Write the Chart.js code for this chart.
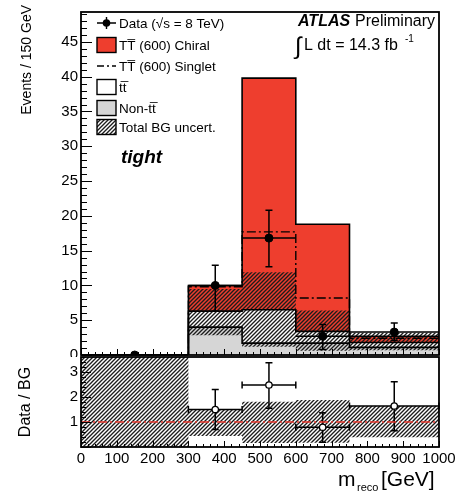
<!DOCTYPE html>
<html>
<head>
<meta charset="utf-8">
<script src="https://cdn.jsdelivr.net/npm/chart.js@4.4.1/dist/chart.umd.min.js"></script>
<style>
    body { margin: 0; background: #fff; }
    #wrap { position: relative; width: 469px; height: 492px; overflow: hidden; }
    canvas { position: absolute; left: 0; }
</style>
</head>
<body>
<div id="wrap">
    <canvas id="main" width="469" height="370" style="top:0"></canvas>
    <canvas id="ratio" width="469" height="162" style="top:330px"></canvas>
</div>
<script>
// bins (GeV)
const binEdges = [0, 300, 450, 600, 750, 1000];

// stacked histograms, events per bin
const nonTT = [0, 4.0, 1.7, 1.7, 1.1];
const ttbar = [0, 2.3, 4.8, 1.7, 0.7];
const chiral = [0, 3.7, 33.3, 15.4, 0.9];
// singlet drawn as total (BG + signal)
const singletTotal = [0, 9.8, 17.7, 8.2, 2.4];
// total BG uncertainty band
const bgUncLow = [0, 2.85, 1.2, 0.6, 0.7];
const bgUncHigh = [0, 9.5, 11.9, 6.4, 3.2];

// data points
const dataX = [150, 375, 525, 675, 875];
const dataXErr = [150, 75, 75, 75, 125];
const dataY = [0, 10.0, 16.8, 2.7, 3.3];
const dataLow = [0, 6.3, 12.7, 0.8, 2.1];
const dataHigh = [0, 12.9, 20.8, 4.4, 4.6];

// ratio panel
const ratioX = [375, 525, 675, 875];
const ratioXErr = [75, 75, 75, 125];
const ratioY = [1.5, 2.48, 0.79, 1.64];
const ratioLow = [0.7, 1.55, 0.19, 0.65];
const ratioHigh = [2.3, 3.37, 1.37, 2.61];
const ratioUncLow = [0, 0.44, 0.16, 0.17, 0.39];
const ratioUncHigh = [3.6, 1.5, 1.81, 1.88, 1.64];

// tick labels
const xTicks = [0, 100, 200, 300, 400, 500, 600, 700, 800, 900, 1000];
const mainYTicks = [0, 5, 10, 15, 20, 25, 30, 35, 40, 45];
const ratioYTicks = [1, 2, 3];

const legendLabels = ['Data (\u221As = 8 TeV)', 'TT\u0305 (600) Chiral', 'TT\u0305 (600) Singlet', 'tt\u0305', 'Non-tt\u0305', 'Total BG uncert.'];

const RED = 'rgb(238,62,46)';
const GREY = '#d6d6d6';
const FONT = '"Liberation Sans", Arial, sans-serif';
const INK = '#000';

Chart.defaults.font.family = FONT;
Chart.defaults.color = INK;

//hatch pattern for the uncertainty bands
function makeHatch(ctx) {
    const s = 4;
    const c = document.createElement('canvas');
    c.width = s; c.height = s;
    const g = c.getContext('2d');
    g.strokeStyle = '#1c1c1c';
    g.lineWidth = 1.35;
    g.beginPath();
    g.moveTo(0, s); g.lineTo(s, 0);
    g.moveTo(-1, 1); g.lineTo(1, -1);
    g.moveTo(s - 1, s + 1); g.lineTo(s + 1, s - 1);
    g.stroke();
    return ctx.createPattern(c, 'repeat');
}

//points for a step line over the bins (value held until the next edge)
function stepPts(vals) {
    return binEdges.map((e, i) => ({ x: e, y: vals[Math.max(0, i - 1)] }));
}
function histLine(vals, extra) {
    return Object.assign({
        data: stepPts(vals), stepped: 'after', pointRadius: 0,
        borderColor: '#000', borderWidth: 1.6, fill: false
    }, extra);
}

//inward ROOT-like tick marks + frame
function ticksAndFrame(chart, o) {
    const { ctx, chartArea: a, scales } = chart;
    ctx.save();
    ctx.strokeStyle = '#000';
    ctx.lineWidth = 1;
    ctx.beginPath();
    const xs = scales.x;
    const nx = Math.round((xs.max - xs.min) / o.xMinor);
    for (let i = 0; i <= nx; i++) {
        const px = Math.round(xs.getPixelForValue(xs.min + i * o.xMinor)) + 0.5;
        const len = i % 5 == 0 ? o.xMajorLen : o.xMinorLen;
        ctx.moveTo(px, a.bottom); ctx.lineTo(px, a.bottom - len);
    }
    const ys = scales.y;
    const ny = Math.floor((ys.max - ys.min) / o.yMinor + 1e-6);
    for (let i = 0; i <= ny; i++) {
        const py = Math.round(ys.getPixelForValue(ys.min + i * o.yMinor)) + 0.5;
        const len = i % 5 == 0 ? o.yMajorLen : o.yMinorLen;
        ctx.moveTo(a.left, py); ctx.lineTo(a.left + len, py);
    }
    ctx.stroke();
    ctx.lineWidth = 1.8;
    ctx.strokeRect(a.left, a.top, a.right - a.left, a.bottom - a.top);
    ctx.restore();
}

function errorBars(chart, xs, xe, ys, lo, hi, capX, capY) {
    const { ctx, scales } = chart;
    ctx.save();
    ctx.strokeStyle = '#000';
    ctx.lineWidth = 1.5;
    ctx.beginPath();
    for (let i = 0; i < xs.length; i++) {
        const px = scales.x.getPixelForValue(xs[i]);
        const py = scales.y.getPixelForValue(ys[i]);
        const x0 = scales.x.getPixelForValue(xs[i] - xe[i]);
        const x1 = scales.x.getPixelForValue(xs[i] + xe[i]);
        const y0 = scales.y.getPixelForValue(lo[i]);
        const y1 = scales.y.getPixelForValue(hi[i]);
        ctx.moveTo(x0, py); ctx.lineTo(x1, py);
        ctx.moveTo(px, y0); ctx.lineTo(px, y1);
        if (capY && hi[i] > lo[i]) {
            ctx.moveTo(px - capY, y0); ctx.lineTo(px + capY, y0);
            ctx.moveTo(px - capY, y1); ctx.lineTo(px + capY, y1);
        }
        if (capX) {
            ctx.moveTo(x0, py - capX); ctx.lineTo(x0, py + capX);
            ctx.moveTo(x1, py - capX); ctx.lineTo(x1, py + capX);
        }
    }
    ctx.stroke();
    ctx.restore();
}

function drawLegend(ctx, pattern) {
    const x0 = 97, x1 = 116, tx = 119;
    const rows = [23, 45, 66, 87, 108, 127];
    ctx.save();
    ctx.strokeStyle = '#000';
    ctx.lineWidth = 1.4;
    //data marker
    ctx.beginPath();
    ctx.moveTo(x0, rows[0]); ctx.lineTo(x1, rows[0]);
    ctx.moveTo((x0 + x1) / 2, rows[0] - 6); ctx.lineTo((x0 + x1) / 2, rows[0] + 6);
    ctx.stroke();
    ctx.beginPath();
    ctx.arc((x0 + x1) / 2, rows[0], 3.8, 0, Math.PI * 2);
    ctx.fillStyle = '#000'; ctx.fill();
    //boxes
    const box = (r, fill) => {
        ctx.fillStyle = fill;
        ctx.fillRect(x0, r - 7.5, x1 - x0, 15);
        ctx.strokeRect(x0, r - 7.5, x1 - x0, 15);
    };
    box(rows[1], RED);
    box(rows[3], '#fff');
    box(rows[4], GREY);
    ctx.fillStyle = '#fff';
    ctx.fillRect(x0, rows[5] - 7.5, x1 - x0, 15);
    box(rows[5], pattern);
    //singlet dash-dot
    ctx.beginPath();
    ctx.setLineDash([7, 3, 2, 3]);
    ctx.moveTo(x0, rows[2]); ctx.lineTo(x1, rows[2]);
    ctx.stroke();
    ctx.setLineDash([]);
    //labels
    ctx.fillStyle = INK;
    ctx.font = '13.5px ' + FONT;
    ctx.textBaseline = 'middle';
    legendLabels.forEach((t, i) => ctx.fillText(t, tx, rows[i] + 1));
    ctx.restore();
}

const mainCtx = document.getElementById('main').getContext('2d');
const ratioCtx = document.getElementById('ratio').getContext('2d');
const hatchMain = makeHatch(mainCtx);
const hatchRatio = makeHatch(ratioCtx);

const cumTT = nonTT.map((v, i) => v + ttbar[i]);
const cumChiral = cumTT.map((v, i) => v + chiral[i]);

new Chart(mainCtx, {
    type: 'line',
    data: {
        datasets: [
            histLine(nonTT, { fill: 'origin', backgroundColor: GREY, order: 6 }),
            histLine(cumTT, { fill: '-1', backgroundColor: '#fff', order: 5 }),
            histLine(cumChiral, { fill: '-1', backgroundColor: RED, order: 4 }),
            histLine(bgUncLow, { borderWidth: 0, order: 3 }),
            histLine(bgUncHigh, { borderWidth: 0, fill: '-1', backgroundColor: hatchMain, order: 2 }),
            histLine(singletTotal, { borderDash: [9, 3, 2, 3], borderWidth: 1.4, order: 1 }),
            {
                data: dataX.map((x, i) => ({ x: x, y: dataY[i] })),
                showLine: false, pointRadius: 4, pointBackgroundColor: '#000', pointBorderColor: '#000', order: 0
            }
        ]
    },
    options: {
        responsive: false,
        animation: false,
        devicePixelRatio: 1,
        layout: { padding: { left: 0, right: 30, top: 9, bottom: 15 } },
        plugins: { legend: { display: false }, tooltip: { enabled: false }, filler: { drawTime: 'beforeDatasetsDraw' } },
        scales: {
            x: { type: 'linear', min: 0, max: 1000, display: false },
            y: {
                type: 'linear', min: 0, max: 49.3,
                grid: { display: false, drawTicks: false },
                border: { display: false },
                afterBuildTicks: s => { s.ticks = mainYTicks.map(v => ({ value: v })); },
                afterFit: s => { s.width = 81; },
                ticks: { padding: 3, font: { size: 15 }, color: INK }
            }
        }
    },
    plugins: [{
        id: 'decor',
        afterDatasetsDraw(chart) {
            errorBars(chart, dataX, dataXErr, dataY, dataLow, dataHigh, 0, 3.5);
        },
        afterDraw(chart) {
            const ctx = chart.ctx;
            ticksAndFrame(chart, { xMinor: 20, xMajorLen: 6, xMinorLen: 3, yMinor: 1, yMajorLen: 11, yMinorLen: 6 });
            drawLegend(ctx, hatchMain);
            ctx.save();
            ctx.fillStyle = INK;
            ctx.textBaseline = 'alphabetic';
            ctx.font = 'italic bold 16px ' + FONT;
            ctx.fillText('ATLAS', 298, 26);
            ctx.font = '16px ' + FONT;
            ctx.fillText('Preliminary', 355, 26);
            ctx.font = '24px ' + FONT;
            ctx.fillText('\u222B', 295, 54);
            ctx.font = '16px ' + FONT;
            ctx.fillText('L dt = 14.3 fb', 304, 50);
            ctx.font = '10px ' + FONT;
            ctx.fillText('-1', 405, 42);
            ctx.font = 'italic bold 19px ' + FONT;
            ctx.fillText('tight', 121, 163);
            //y title
            ctx.translate(27, 5);
            ctx.rotate(-Math.PI / 2);
            ctx.font = '14px ' + FONT;
            ctx.textAlign = 'right';
            ctx.textBaseline = 'middle';
            ctx.fillText('Events / 150 GeV', 0, 0);
            ctx.restore();
        }
    }]
});

new Chart(ratioCtx, {
    type: 'line',
    data: {
        datasets: [
            histLine(ratioUncLow, { borderWidth: 0, order: 3 }),
            histLine(ratioUncHigh, { borderWidth: 0, fill: '-1', backgroundColor: hatchRatio, order: 2 }),
            {
                data: [{ x: 0, y: 1 }, { x: 1000, y: 1 }],
                borderColor: '#e8352a', borderWidth: 1.3, borderDash: [9, 3, 2, 3], pointRadius: 0, order: 1
            },
            {
                data: ratioX.map((x, i) => ({ x: x, y: ratioY[i] })),
                showLine: false, pointRadius: 3.2, pointBackgroundColor: '#fff',
                pointBorderColor: '#000', pointBorderWidth: 1.3, order: 0
            }
        ]
    },
    options: {
        responsive: false,
        animation: false,
        devicePixelRatio: 1,
        layout: { padding: { left: 0, right: 30, top: 27, bottom: 0 } },
        plugins: { legend: { display: false }, tooltip: { enabled: false }, filler: { drawTime: 'beforeDatasetsDraw' } },
        scales: {
            x: {
                type: 'linear', min: 0, max: 1000,
                grid: { display: false, drawTicks: false },
                border: { display: false },
                afterBuildTicks: s => { s.ticks = xTicks.map(v => ({ value: v })); },
                afterFit: s => { s.height = 45; },
                ticks: { padding: 3, font: { size: 15 }, color: INK, maxRotation: 0, autoSkip: false, callback: v => String(v) }
            },
            y: {
                type: 'linear', min: 0, max: 3.6,
                grid: { display: false, drawTicks: false },
                border: { display: false },
                afterBuildTicks: s => { s.ticks = ratioYTicks.map(v => ({ value: v })); },
                afterFit: s => { s.width = 81; },
                ticks: { padding: 3, font: { size: 15 }, color: INK }
            }
        }
    },
    plugins: [{
        id: 'decorRatio',
        beforeDraw(chart) {
            const ctx = chart.ctx;
            ctx.save();
            ctx.fillStyle = '#fff';
            ctx.fillRect(0, chart.chartArea.top, chart.width, chart.height);
            ctx.restore();
        },
        beforeDatasetsDraw(chart) {
            errorBars(chart, ratioX, ratioXErr, ratioY, ratioLow, ratioHigh, 3.5, 3.5);
        },
        afterDraw(chart) {
            const ctx = chart.ctx;
            ticksAndFrame(chart, { xMinor: 20, xMajorLen: 6, xMinorLen: 3, yMinor: 0.2, yMajorLen: 10, yMinorLen: 5 });
            ctx.save();
            ctx.fillStyle = INK;
            //x title with subscript
            ctx.font = '21px ' + FONT;
            ctx.fillText('m', 338, 156);
            ctx.font = '11px ' + FONT;
            ctx.fillText('reco', 357, 161);
            ctx.font = '21px ' + FONT;
            ctx.fillText('[GeV]', 381, 156);
            //y title
            ctx.translate(26, 72);
            ctx.rotate(-Math.PI / 2);
            ctx.font = '16px ' + FONT;
            ctx.textAlign = 'center';
            ctx.textBaseline = 'middle';
            ctx.fillText('Data / BG', 0, 0);
            ctx.restore();
        }
    }]
});
</script>
</body>
</html>
